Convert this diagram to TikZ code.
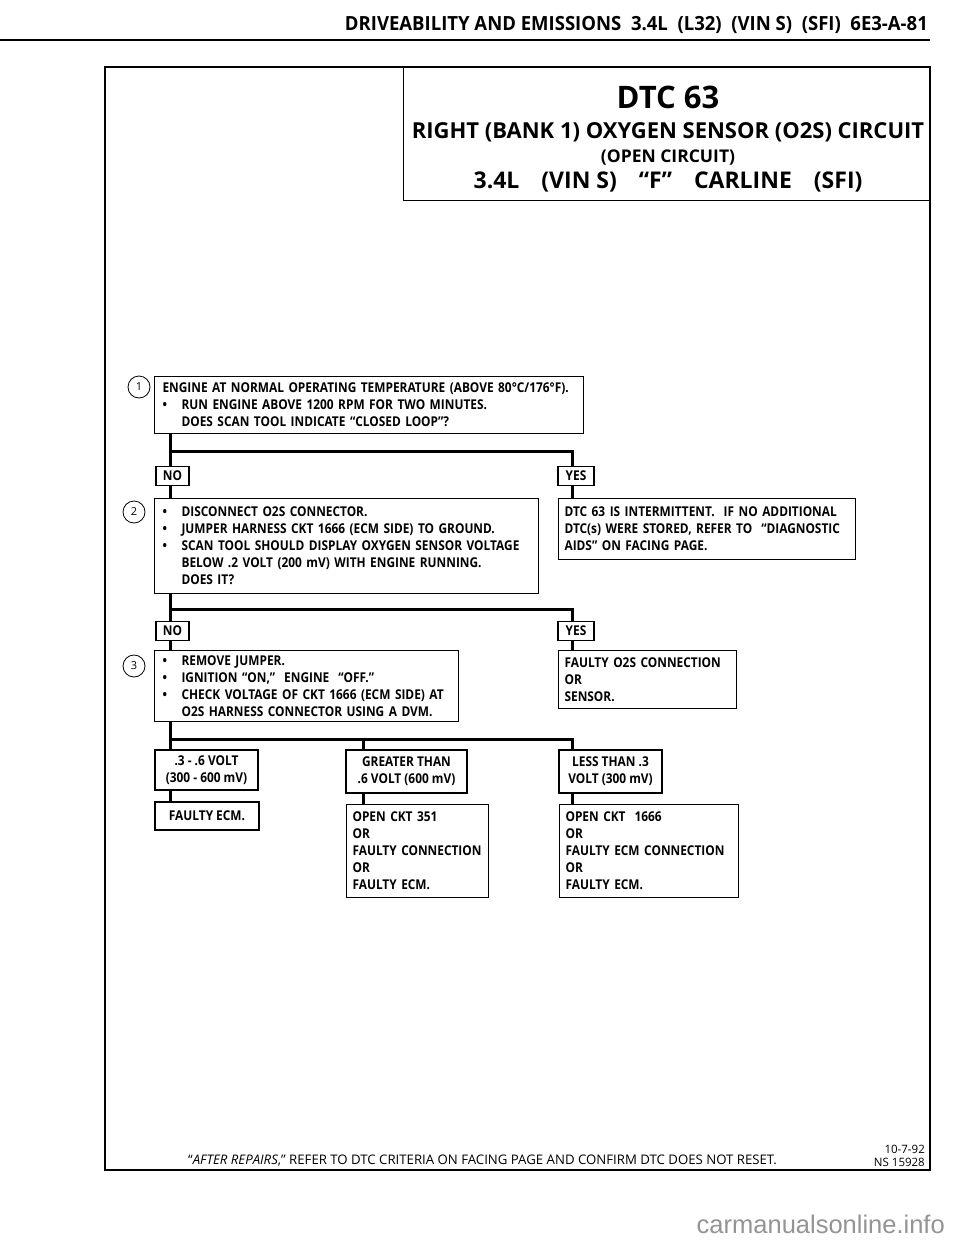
\documentclass[tikz,border=0pt]{standalone}
\usepackage{fontspec}
\usepackage{graphicx}
\setmainfont{Open Sans}
\newfontfamily\bx[FakeStretch=0.88]{Open Sans}
\newfontfamily\wmfont{Liberation Sans}
\newcommand\bul{\makebox[19pt][l]{\textbullet}}
\newcommand\ind{\hspace*{19pt}}
\begin{document}
\begin{tikzpicture}[x=1pt,y=-1pt,
  txt/.style={font=\bx\bfseries\fontsize{13.5}{17}\selectfont},
  box/.style={draw, line width=1.1pt, anchor=north west, inner xsep=8pt, inner ysep=0pt,
              align=left, txt},
  cbox/.style={draw, line width=1.1pt, inner xsep=2pt, inner ysep=0pt, align=center, txt},
  lbl/.style={draw, line width=1.1pt, inner sep=0pt, minimum height=19pt, txt},
  conn/.style={line width=3pt, line join=miter},
  num/.style={circle, draw, line width=0.8pt, minimum size=22pt, inner sep=0pt,
              font=\fontsize{11}{11}\selectfont},
  frame/.style={line width=2pt}]
\useasboundingbox (0,0) rectangle (960,1250);
\fill[white] (0,0) rectangle (960,1250);

% header
\node[anchor=east, inner sep=0pt, font=\bfseries\fontsize{19.5}{19.5}\selectfont] (hdr) at (928,25)
  {\scalebox{0.95}[1]{DRIVEABILITY AND EMISSIONS\ \ 3.4L\ \ (L32)\ \ (VIN S)\ \ (SFI)\ \ 6E3-A-81}};
\draw[line width=2.2pt] (0,40) -- (930,40);

% frame and title
\draw[frame] (105,67) rectangle (930,1170);
\node[draw, line width=1.2pt, anchor=north west, minimum width=527pt, minimum height=133pt, inner sep=0pt] (title) at (403,67) {};
\node[font=\bfseries\fontsize{31}{31}\selectfont, inner sep=0pt] (t1) at (668,97) {DTC 63};
\node[font=\bfseries\fontsize{22}{22}\selectfont, inner sep=0pt] (t2) at (668,132) {RIGHT (BANK 1) OXYGEN SENSOR (O2S) CIRCUIT};
\node[font=\bfseries\fontsize{17.5}{17.5}\selectfont, inner sep=0pt] (t3) at (668,158) {(OPEN CIRCUIT)};
\node[font=\bfseries\fontsize{23}{23}\selectfont, inner sep=0pt] (t4) at (668,182) {3.4L\hspace{22pt}(VIN S)\hspace{22pt}“F”\hspace{22pt}CARLINE\hspace{22pt}(SFI)};

% column positions
\coordinate (cl) at (170,0);
\coordinate (cm) at (363,0);
\coordinate (cr) at (572,0);

% step 1
\node[num] (n1) at (139,387) {1};
\node[box, text width=413pt, minimum height=57pt] (s1) at (154,376) {%
\mbox{ENGINE AT NORMAL OPERATING TEMPERATURE (ABOVE 80°C/176°F).}\\
\mbox{\bul RUN ENGINE ABOVE 1200 RPM FOR TWO MINUTES.}\\
\mbox{\ind DOES SCAN TOOL INDICATE “CLOSED LOOP”?}};
\coordinate (b1) at (0,451);
\node[lbl, minimum width=33pt] (no1) at (172.5,476) {NO};
\node[lbl, minimum width=36pt] (yes1) at (576,476) {YES};
\draw[conn] (cl |- s1.south) -- (cl |- no1.north);
\draw[conn] (cl |- b1) -- (cr |- b1) -- (cr |- yes1.north);

% step 2
\node[num] (n2) at (134,512) {2};
\node[box, text width=368pt, minimum height=95pt] (s2) at (154,498) {%
\mbox{\bul DISCONNECT O2S CONNECTOR.}\\
\mbox{\bul JUMPER HARNESS CKT 1666 (ECM SIDE) TO GROUND.}\\
\mbox{\bul SCAN TOOL SHOULD DISPLAY OXYGEN SENSOR\ VOLTAGE}\\
\mbox{\ind BELOW .2 VOLT (200 mV) WITH ENGINE RUNNING.}\\
\mbox{\ind DOES IT?}};
\node[box, inner xsep=6pt, text width=285pt, minimum height=61pt] (r1) at (558,498) {%
\mbox{DTC 63 IS INTERMITTENT.\ \ IF NO ADDITIONAL}\\
\mbox{DTC(s) WERE STORED, REFER TO\ \ “DIAGNOSTIC}\\
\mbox{AIDS” ON FACING PAGE.}};
\draw[conn] (cl |- no1.south) -- (cl |- s2.north);
\draw[conn] (cr |- yes1.south) -- (cr |- r1.north);

\coordinate (b2) at (0,609);
\node[lbl, minimum width=33pt] (no2) at (172.5,631) {NO};
\node[lbl, minimum width=36pt] (yes2) at (576,631) {YES};
\draw[conn] (cl |- s2.south) -- (cl |- no2.north);
\draw[conn] (cl |- b2) -- (cr |- b2) -- (cr |- yes2.north);

% step 3
\node[num] (n3) at (134,666) {3};
\node[box, text width=288pt, minimum height=71pt] (s3) at (154,650) {%
\mbox{\bul REMOVE JUMPER.}\\
\mbox{\bul IGNITION “ON,”\ \ ENGINE\ \ “OFF.”}\\
\mbox{\bul CHECK VOLTAGE OF CKT 1666 (ECM SIDE) AT}\\
\mbox{\ind O2S HARNESS CONNECTOR USING A DVM.}};
\node[box, inner xsep=6pt, text width=166pt, minimum height=58pt] (r2) at (558,650) {%
\mbox{FAULTY O2S CONNECTION}\\ OR\\ SENSOR.};
\draw[conn] (cl |- no2.south) -- (cl |- s3.north);
\draw[conn] (cr |- yes2.south) -- (cr |- r2.north);

% results of step 3
\coordinate (b3) at (0,739);
\node[cbox, minimum width=103pt, minimum height=40pt] (a) at (206.5,770) {.3 - .6 VOLT\\(300 - 600 mV)};
\node[cbox, minimum width=104pt, minimum height=28pt] (a2) at (207,816) {FAULTY ECM.};
\node[cbox, minimum width=121pt, minimum height=43pt] (b) at (406.5,771.5) {GREATER THAN\\.6 VOLT (600 mV)};
\node[box, inner xsep=6pt, text width=130pt, minimum height=93pt] (b2x) at (346,804) {%
OPEN CKT 351\\OR\\\mbox{FAULTY CONNECTION}\\OR\\FAULTY ECM.};
\node[cbox, minimum width=103pt, minimum height=43pt] (c) at (610.5,771.5) {LESS THAN .3\\VOLT (300 mV)};
\node[box, inner xsep=6pt, text width=167pt, minimum height=93pt] (c2) at (559,804) {%
OPEN CKT\ \ 1666\\OR\\\mbox{FAULTY ECM CONNECTION}\\OR\\FAULTY ECM.};
\draw[conn] (cl |- s3.south) -- (cl |- a.north);
\draw[conn] (cl |- b3) -- (cr |- b3) -- (cr |- c.north);
\draw[conn] (cm |- b3) -- (cm |- b.north);
\draw[conn] (cl |- a.south) -- (cl |- a2.north);
\draw[conn] (cm |- b.south) -- (cm |- b2x.north);
\draw[conn] (cr |- c.south) -- (cr |- c2.north);

% footer
\node[anchor=west, inner sep=0pt, font=\fontsize{13.2}{13.2}\selectfont] (foot) at (188,1161)
  {“\textit{AFTER REPAIRS},” REFER TO DTC CRITERIA ON FACING PAGE AND CONFIRM DTC DOES NOT RESET.};
\node[anchor=east, inner sep=0pt, align=right, font=\fontsize{11.5}{12.5}\selectfont] (date) at (925,1156)
  {10-7-92\\NS 15928};

% watermark
\node[anchor=east, inner sep=0pt, text=black!42, font=\wmfont\fontsize{25.5}{25.5}\selectfont] (wm) at (945,1224)
  {carmanualsonline.info};
\end{tikzpicture}
\end{document}
